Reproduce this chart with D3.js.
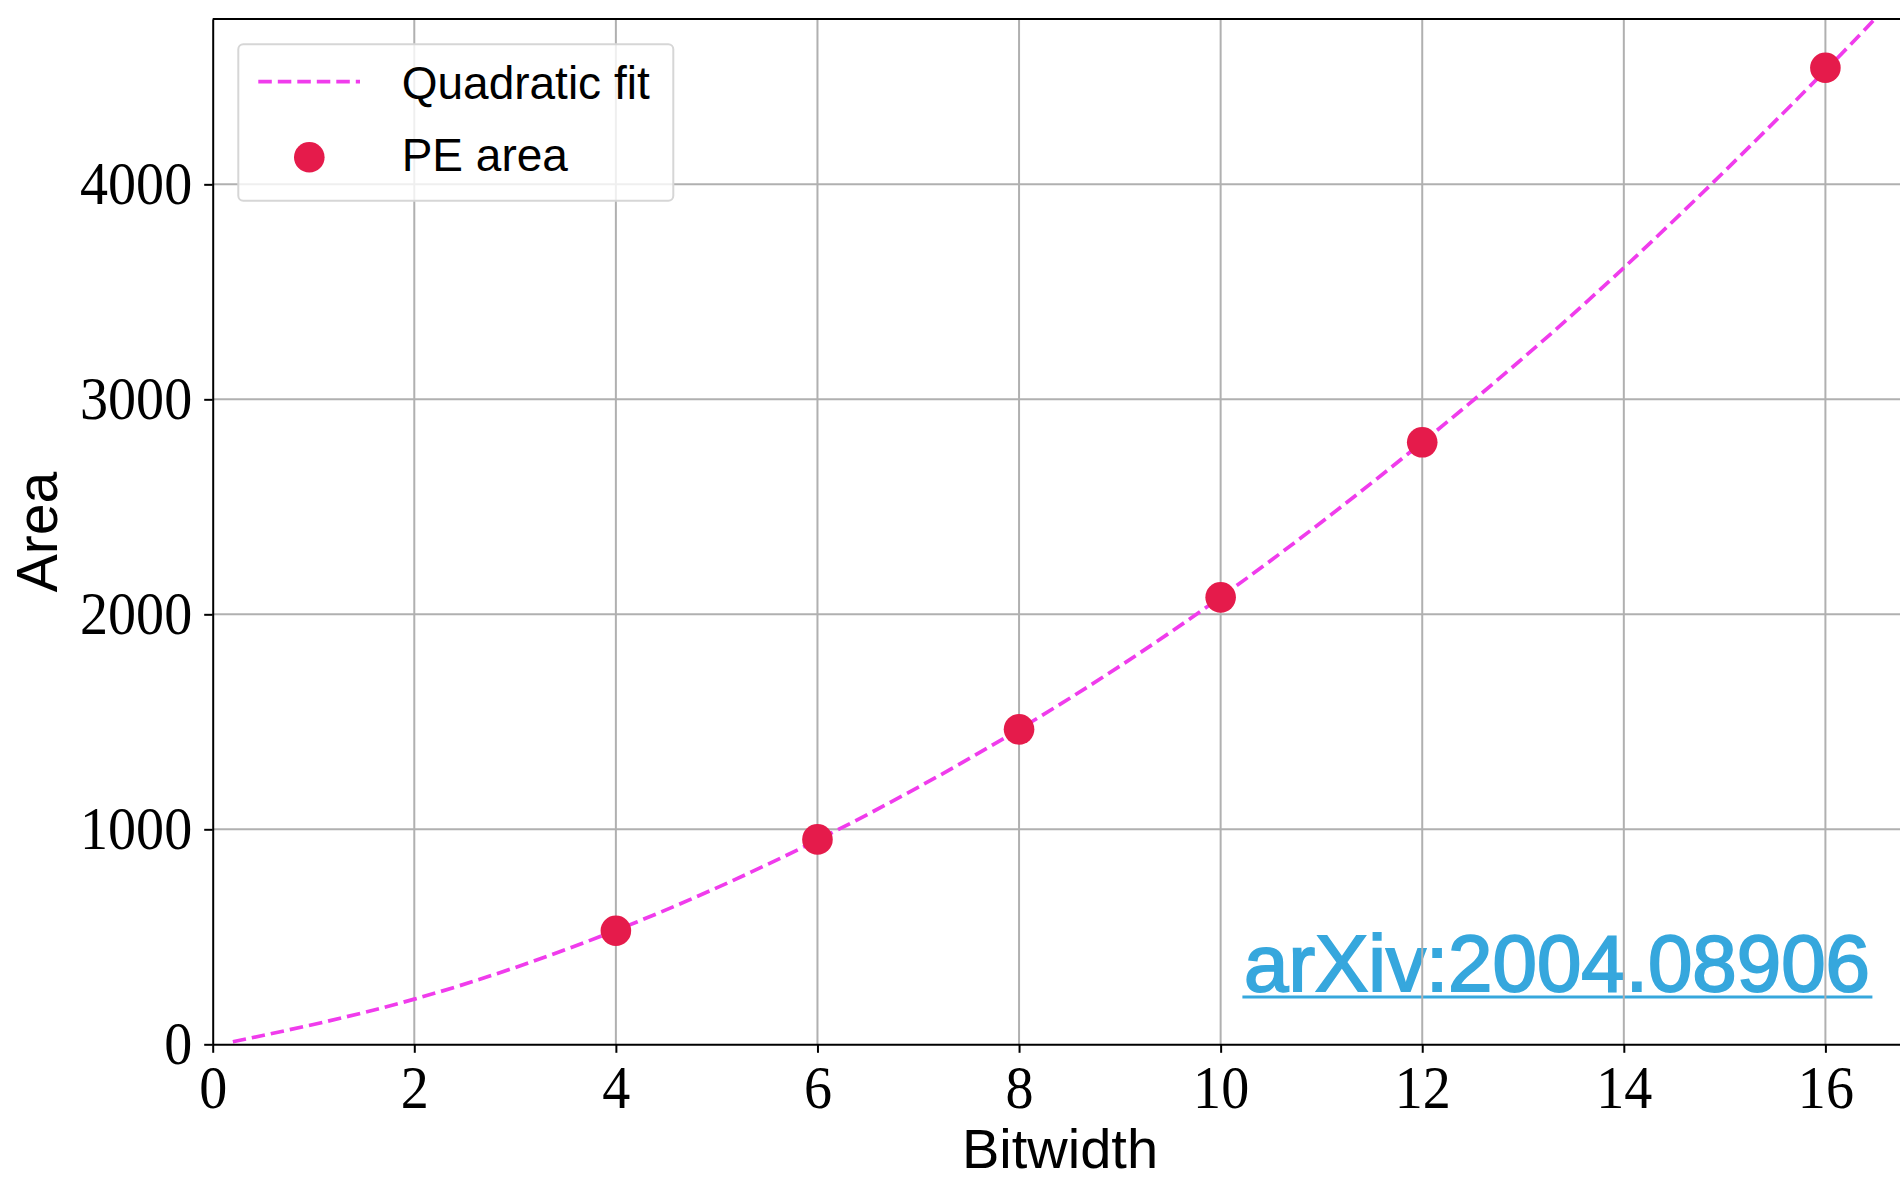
<!DOCTYPE html>
<html lang="en">
<head>
<meta charset="UTF-8">
<title>PE area vs bitwidth</title>
<style>
    body { margin: 0; background: #fff; }
</style>
</head>
<body>
<div id="chart"></div>
<script src="https://cdn.jsdelivr.net/npm/d3@7"></script>
<script>
    // values
    var bitwidths = [4, 6, 8, 10, 12, 16];
    var peArea = [528, 953, 1465, 2079, 2800, 4542];
    // points
    var fitBitwidth = [0.2, 2, 4, 6, 8, 10, 12, 14, 16, 17];
    var fitArea = [12, 210, 530, 950, 1465, 2080, 2800, 3612, 4530, 5030];
    var xTicks = [0, 2, 4, 6, 8, 10, 12, 14, 16];
    var yTicks = [0, 1000, 2000, 3000, 4000];
    var legendLabels = ["Quadratic fit", "PE area"];
    var watermark = "arXiv:2004.08906";

    var width = 1900, height = 1180;
    var plotL = 212.7, plotR = 1901, plotT = 19, plotB = 1044.3;
    var fitColor = "#f03cec", dotColor = "#e51b4b", wmColor = "#36a7dd";
    var dash = "13.5,6";

    var svg = d3.select("#chart").append("svg")
        .attr("width", width)
        .attr("height", height);

    var x = d3.scaleLinear().domain([0, 16.75]).range([plotL, plotR]);
    var y = d3.scaleLinear().domain([0, 4769]).range([plotB, plotT]);

    svg.append("defs").append("clipPath").attr("id", "plotclip")
        .append("rect")
        .attr("x", plotL).attr("y", plotT)
        .attr("width", plotR - plotL).attr("height", plotB - plotT);

    // watermark (sits under the grid)
    var wm = svg.append("g");
    wm.append("text")
        .attr("x", 1244)
        .attr("y", 990.8)
        .attr("textLength", 626)
        .attr("lengthAdjust", "spacingAndGlyphs")
        .style("font-family", "'Liberation Sans', Arial, sans-serif")
        .style("font-size", "80px")
        .style("fill", wmColor)
        .style("stroke", wmColor)
        .style("stroke-width", 2)
        .text(watermark);
    wm.append("rect")
        .attr("x", 1242.4).attr("y", 995.5)
        .attr("width", 630).attr("height", 3)
        .style("fill", wmColor);

    // grid
    var grid = svg.append("g").attr("clip-path", "url(#plotclip)");
    grid.selectAll(".vgrid").data(xTicks.filter(function(d){ return d > 0; }))
        .enter().append("line")
        .attr("x1", function(d){ return x(d); }).attr("x2", function(d){ return x(d); })
        .attr("y1", plotT).attr("y2", plotB)
        .style("stroke", "#b0b0b0").style("stroke-width", 2);
    grid.selectAll(".hgrid").data(yTicks.filter(function(d){ return d > 0; }))
        .enter().append("line")
        .attr("x1", plotL).attr("x2", plotR)
        .attr("y1", function(d){ return y(d); }).attr("y2", function(d){ return y(d); })
        .style("stroke", "#b0b0b0").style("stroke-width", 2);

    // fit curve
    var fitData = fitBitwidth.map(function(d, i){ return [d, fitArea[i]]; });
    var line = d3.line()
        .x(function(d){ return x(d[0]); })
        .y(function(d){ return y(d[1]); })
        .curve(d3.curveNatural);
    svg.append("path")
        .datum(fitData)
        .attr("clip-path", "url(#plotclip)")
        .attr("d", line)
        .style("fill", "none")
        .style("stroke", fitColor)
        .style("stroke-width", 3.7)
        .style("stroke-dasharray", dash);

    // points
    svg.append("g").selectAll("circle")
        .data(bitwidths)
        .enter().append("circle")
        .attr("cx", function(d){ return x(d); })
        .attr("cy", function(d, i){ return y(peArea[i]); })
        .attr("r", 15.3)
        .style("fill", dotColor);

    // axes
    var xAxis = d3.axisBottom(x).tickValues(xTicks).tickSize(8.5).tickSizeOuter(0).tickPadding(12)
        .tickFormat(d3.format("d"));
    var yAxis = d3.axisLeft(y).tickValues(yTicks).tickSize(8.5).tickSizeOuter(0).tickPadding(12)
        .tickFormat(d3.format("d"));

    var gx = svg.append("g")
        .attr("transform", "translate(0," + plotB + ")")
        .call(xAxis);
    var gy = svg.append("g")
        .attr("transform", "translate(" + plotL + ",0)")
        .call(yAxis);

    [gx, gy].forEach(function(g){
        g.select(".domain").style("stroke", "#000").style("stroke-width", 2);
        g.selectAll(".tick line").style("stroke", "#000").style("stroke-width", 2);
        g.selectAll(".tick text")
            .style("font-family", "'Liberation Serif', 'Times New Roman', serif")
            .style("font-size", "61px")
            .style("fill", "#000");
    });
    gx.selectAll(".tick text").attr("transform", "scale(0.92,1)");
    gy.selectAll(".tick text")
        .attr("x", 0)
        .attr("transform", "translate(-20.5,0) scale(0.92,1)");

    svg.append("line")
        .attr("x1", plotL).attr("x2", plotR)
        .attr("y1", plotT).attr("y2", plotT)
        .style("stroke", "#000").style("stroke-width", 2);

    // axis labels
    svg.append("text")
        .attr("x", 1060)
        .attr("y", 1168)
        .attr("text-anchor", "middle")
        .style("font-family", "'Liberation Sans', Arial, sans-serif")
        .style("font-size", "56px")
        .text("Bitwidth");
    svg.append("text")
        .attr("transform", "translate(57,532) rotate(-90)")
        .attr("text-anchor", "middle")
        .style("font-family", "'Liberation Sans', Arial, sans-serif")
        .style("font-size", "57px")
        .text("Area");

    // legend
    var lg = svg.append("g");
    lg.append("rect")
        .attr("x", 238.3).attr("y", 44.3)
        .attr("width", 435).attr("height", 156.4)
        .attr("rx", 5)
        .style("fill", "#fff").style("fill-opacity", 0.8)
        .style("stroke", "#d6d6d6").style("stroke-width", 2);
    var rowY = [81.7, 157.3];
    lg.append("line")
        .attr("x1", 258.3).attr("x2", 360)
        .attr("y1", rowY[0]).attr("y2", rowY[0])
        .style("stroke", fitColor).style("stroke-width", 3.7)
        .style("stroke-dasharray", dash);
    lg.append("circle")
        .attr("cx", 309.3).attr("cy", rowY[1]).attr("r", 15.3)
        .style("fill", dotColor);
    lg.selectAll(".lbl").data(legendLabels)
        .enter().append("text")
        .attr("x", 401.7)
        .attr("y", function(d, i){ return rowY[i] + (i === 0 ? 17 : 14); })
        .style("font-family", "'Liberation Sans', Arial, sans-serif")
        .style("font-size", "46px")
        .text(function(d){ return d; });
</script>
</body>
</html>
